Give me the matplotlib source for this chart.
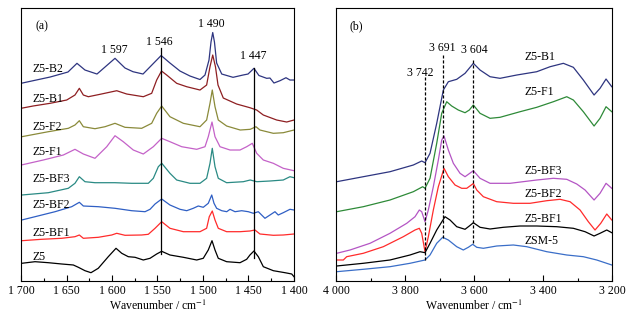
import numpy as np
import matplotlib
matplotlib.use("Agg")
import matplotlib.pyplot as plt
from matplotlib.ticker import MultipleLocator, FuncFormatter

plt.rcParams['font.family'] = ['Liberation Serif', 'DejaVu Serif']
plt.rcParams['mathtext.fontset'] = 'stix'
FS = 8.5

# ---------------- panel (a): 1700-1400 cm-1, stacked spectra (a.u. incl. offset)
a_names = ["Z5-B2", "Z5-B1", "Z5-F2", "Z5-F1", "Z5-BF3", "Z5-BF2", "Z5-BF1", "Z5"]
a_colors = ["#2e3580", "#8e1f22", "#8a8a3a", "#c462c8", "#2a8a84", "#2f5fc4", "#ff2b2b", "#000000"]

a_B2_wn = [1700, 1668, 1648.4, 1638.5, 1629.7, 1616.5, 1596.7, 1585.7, 1576.9, 1565.9, 1546, 1536.3,
           1525.3, 1514.3, 1503.3, 1497.8, 1493.4, 1491.2, 1489.3, 1487.4, 1485, 1479.4, 1467, 1456,
           1450.5, 1444, 1438.5, 1430, 1426.4, 1422, 1415.4, 1408.8, 1404.4, 1400]
a_B2 = [197.7, 204, 209, 217.7, 211, 207, 222.7, 213, 209.3, 207, 225.5, 218,
        210, 205, 201.5, 206, 221, 239, 248.5, 239, 218, 207, 203.7, 206,
        207, 212.7, 205.5, 202.7, 203, 198, 200.3, 203.3, 201, 201]

a_B1_wn = [1700, 1686.8, 1668.1, 1649.8, 1640.7, 1635.9, 1631.5, 1626, 1613.2, 1594.8, 1583.8, 1565.6,
           1556.4, 1550.9, 1545.6, 1539.9, 1528.9, 1517.9, 1503.3, 1496, 1492.3, 1489.3, 1486.3, 1483.5,
           1477.7, 1463, 1448.4, 1441, 1433.7, 1419, 1408, 1400]
a_B1 = [172.7, 175, 177.7, 181, 186, 192.7, 186, 184.3, 186.7, 190.3, 187, 184.3,
        187.7, 201, 210, 206, 197.7, 194.3, 191, 196, 214.3, 226, 214.3, 196,
        183, 177, 173.3, 171, 166, 161, 159, 161]

a_F2_wn = [1699.2, 1670, 1648, 1640.7, 1635.9, 1631.5, 1618.7, 1607.7, 1596.7, 1585.7, 1567.4, 1556.4,
           1550.9, 1545.4, 1536.3, 1521.6, 1503.3, 1496, 1492.3, 1489.8, 1486.8, 1483.2, 1474, 1459.1,
           1448.1, 1441.8, 1437.4, 1422.7, 1411.8, 1400]
a_F2 = [144.3, 149.3, 152.7, 156, 160.3, 154.3, 152.3, 154.3, 157.7, 153.7, 152.7, 157.7,
        167.7, 175, 164.3, 157.7, 154.3, 161, 177.7, 191, 174.3, 161, 155, 151,
        151.7, 154.3, 151, 147.7, 148.3, 151]

a_F1_wn = [1699.7, 1675.5, 1653.5, 1640.7, 1631.5, 1618.7, 1605.8, 1596.7, 1587.6, 1576.6, 1565.6, 1554.6,
           1545.4, 1536.3, 1523.4, 1506.9, 1497.8, 1494.2, 1490.1, 1486.8, 1481.3, 1470.3, 1459.3, 1452,
           1445.8, 1441, 1433.7, 1422.7, 1411.8, 1400]
a_F1 = [116, 121, 126, 131.7, 127, 122.7, 134.3, 145.3, 139.3, 131, 127, 134.3,
        142.7, 139.3, 134.3, 131.7, 134.3, 144.3, 159, 144.3, 134.3, 131, 131, 134.3,
        137.7, 127.7, 121, 117.7, 112.7, 110.3]

a_BF3_wn = [1699.2, 1670, 1648, 1640.7, 1635.9, 1629.7, 1618.7, 1596.7, 1578.4, 1560.1, 1554.6, 1549.1,
            1545.3, 1536.3, 1528.9, 1514.3, 1503.3, 1496, 1492.3, 1489.8, 1486.8, 1483.2, 1474, 1455.7,
            1448.1, 1440.8, 1426.4, 1411.8, 1404.4, 1400]
a_BF3 = [86, 88.3, 92.7, 97.7, 104.3, 99.3, 98.3, 98.3, 97.7, 97.7, 102.7, 114.3,
         117.7, 107.7, 101, 97.7, 97.7, 102.7, 117.7, 132.7, 114.3, 102.7, 98.3, 99.3,
         101, 99.3, 100, 101, 104.3, 103.3]

a_BF2_wn = [1699.2, 1684.6, 1662.6, 1644.3, 1635.9, 1631.5, 1615, 1596.7, 1578.4, 1563.7, 1558.2, 1552.7,
            1545.4, 1536.3, 1525.3, 1517.9, 1510.7, 1505.2, 1499.7, 1494.2, 1490.4, 1487.9, 1485, 1479.4,
            1473.9, 1470.3, 1464.8, 1457.5, 1450.2, 1444.7, 1439.2, 1431.9, 1426.4, 1420.9, 1417.3, 1411.8,
            1404.4, 1400]
a_BF2 = [61, 64.3, 69.3, 74.3, 78.7, 75, 74.3, 72.7, 70.3, 69.3, 71.7, 77,
         82, 76, 71.7, 70.3, 72.7, 75, 73.7, 77.7, 86, 77.7, 72.7, 70.3,
         69.3, 71.7, 69.3, 70.3, 69.3, 67.7, 69.3, 62.7, 66, 69.3, 66, 68.3,
         71.7, 71]

a_BF1_wn = [1699.2, 1677.3, 1655.3, 1640.7, 1635.9, 1631.5, 1615, 1600.3, 1594.8, 1585.7, 1567.4, 1560.1,
            1552.7, 1545.4, 1536.3, 1521.6, 1503.3, 1496, 1493.1, 1489.8, 1486.8, 1483.2, 1474, 1459.3,
            1448.4, 1442.9, 1437.4, 1422.7, 1411.8, 1400]
a_BF1 = [40.3, 41.7, 42.7, 44.3, 46, 42.7, 43.7, 46, 47.7, 45.7, 46, 46.7,
         52.7, 59.3, 52.7, 49.3, 49.3, 52.7, 64.3, 70, 61, 52.7, 49.3, 49.3,
         50, 51, 47, 45.7, 46, 47]

a_Z5_wn = [1699.2, 1684.6, 1670, 1655.3, 1642.5, 1637, 1629.7, 1623.1, 1615.1, 1604.1, 1595.6, 1589.3,
           1582.1, 1574.7, 1565.6, 1558.2, 1550.9, 1545.4, 1536.3, 1521.6, 1506.9, 1499.7, 1494.2, 1490.1,
           1486.8, 1483.2, 1474, 1459.3, 1452, 1448.4, 1444, 1439.2, 1433.7, 1422.7, 1409.9, 1402.5, 1400]
a_Z5 = [17.7, 19.3, 18.3, 17, 16, 13.7, 10.3, 8.3, 12.7, 24.3, 32.7, 27.7,
        24.3, 23.7, 21, 22.7, 27, 29.7, 26, 23.7, 21, 22.7, 31, 40.3,
        31, 22.7, 19.3, 18.3, 21.7, 26, 30, 24.3, 14.3, 10.3, 8.3, 7, 4.3]

a_wn = [a_B2_wn, a_B1_wn, a_F2_wn, a_F1_wn, a_BF3_wn, a_BF2_wn, a_BF1_wn, a_Z5_wn]
a_y = [a_B2, a_B1, a_F2, a_F1, a_BF3, a_BF2, a_BF1, a_Z5]
a_label_y = [212, 182.3, 154.3, 129.3, 102, 76, 48.3, 24.3]

a_peak_text = ["1 597", "1 546", "1 490", "1 447"]
a_peak_text_x = [1598, 1548, 1491, 1445]
a_peak_text_y = [231, 239, 257, 225]
a_vlines = [1546, 1444]
a_vline_top = [233.3, 213]
a_vline_bot = [27, 23.3]

# ---------------- panel (b): 4000-3200 cm-1
b_names = ["Z5-B1", "Z5-F1", "Z5-BF3", "Z5-BF2", "Z5-BF1", "ZSM-5"]
b_colors = ["#2e3580", "#2e8a38", "#b455c4", "#ff2b2b", "#000000", "#3a6ec8"]

b_B1_wn = [3998, 3920.9, 3843.5, 3775.9, 3751.6, 3742, 3727.5, 3708.1, 3688.9, 3674.4, 3650.1, 3626,
           3601.9, 3582.5, 3553.5, 3524.6, 3476.1, 3418.2, 3379.6, 3341, 3312, 3283.1, 3252, 3234.7,
           3217.3, 3200.7]
b_B1 = [99.3, 104.3, 109.3, 116, 120, 118.3, 127.7, 157.7, 191, 199.3, 201.7, 207.7,
        217.7, 211, 204.3, 202.7, 206, 209.3, 214.3, 217.7, 213.7, 201, 186, 192.7,
        202, 194.3]

b_F1_wn = [3998, 3920.9, 3843.5, 3775.9, 3748.7, 3742, 3727.5, 3708.1, 3693.6, 3679.1, 3664.6, 3645.5,
           3626, 3613.6, 3601.9, 3582.5, 3553.5, 3524.6, 3466.6, 3418.2, 3370, 3331.2, 3312, 3283.1,
           3252, 3234.7, 3217.3, 3200.7]
b_F1 = [69.3, 74.3, 81, 89.3, 94.3, 92.7, 102.7, 137.7, 167.7, 179.3, 175, 171,
        168.3, 171, 176, 167.7, 162.7, 163.7, 169.3, 173.7, 179.3, 184.3, 181, 169.3,
        155, 162.7, 174.3, 169.3]

b_BF3_wn = [3998, 3959.4, 3901.4, 3843.5, 3795, 3771, 3758.5, 3751.6, 3742, 3732.4, 3717.9, 3703.4,
            3693.6, 3686.9, 3674.4, 3659.9, 3640.5, 3626, 3601.9, 3582.5, 3553.5, 3495.6, 3418.2, 3370,
            3331.2, 3302.2, 3278.1, 3252, 3234.7, 3217.3, 3200.7]
b_BF3 = [27.7, 31, 37.7, 47.7, 57.7, 64.3, 71, 69.3, 59.3, 71, 94.3, 121,
         141, 145, 131, 117.7, 107.7, 104.3, 110.3, 102.7, 97.7, 97.7, 101, 102.7,
         101.7, 97, 91, 81, 87.7, 97.7, 92.7]

b_BF2_wn = [3998, 3978.8, 3969, 3920.9, 3862.9, 3804.9, 3771, 3758.5, 3751.6, 3742, 3732.4, 3717.9,
            3703.4, 3686.9, 3674.4, 3655, 3635.6, 3621.1, 3601.9, 3592.1, 3572.9, 3534.1, 3486, 3437.6,
            3389.2, 3350.6, 3321.6, 3292.6, 3268.6, 3249.2, 3232.6, 3215.2, 3200.7]
b_BF2 = [21, 21, 24.3, 27.7, 34.3, 44.3, 51, 52.7, 47.7, 29.3, 44.3, 71,
         94.3, 112.7, 104.3, 96, 92.7, 92.7, 97.5, 91, 84.3, 79.3, 77.7, 77.7,
         80.3, 81.7, 79.3, 71, 59.3, 51, 57.7, 67, 61]

b_BF1_wn = [3998, 3920.9, 3843.5, 3785.5, 3756.5, 3742, 3727.5, 3708.1, 3684.1, 3669.5, 3650.1, 3626,
            3613.6, 3601.9, 3582.5, 3553.5, 3515, 3466.6, 3418.2, 3360.2, 3312, 3278.1, 3252, 3234.7,
            3215.2, 3200.7]
b_BF1 = [15, 17.7, 21, 26, 29.3, 28.3, 37.7, 51, 64.3, 61, 54.3, 51.7,
         55, 58.3, 53.7, 52, 53.7, 55, 55, 54.3, 52.7, 49.3, 45, 47.7,
         51, 48.3]

b_Z_wn = [3998, 3920.9, 3843.5, 3785.5, 3742, 3727.5, 3708.1, 3690.7, 3674.4, 3650.1, 3631, 3616.5,
          3603.7, 3592.1, 3572.9, 3534.1, 3486, 3447.2, 3389.2, 3331.2, 3283.1, 3244.3, 3200.7]
b_Z = [9.3, 11.7, 14.3, 17.7, 21, 26, 37.7, 43.7, 41, 34.3, 31, 33.7,
       36.7, 33.7, 32.7, 35, 36, 34.3, 29.3, 26, 24.3, 21, 16]

b_wn = [b_B1_wn, b_F1_wn, b_BF3_wn, b_BF2_wn, b_BF1_wn, b_Z_wn]
b_y = [b_B1, b_F1, b_BF3, b_BF2, b_BF1, b_Z]
b_label_y = [223.7, 189.3, 110.3, 87, 62.3, 40.3]

b_peak_text = ["3 742", "3 691", "3 604"]
b_peak_text_x = [3756, 3691, 3600]
b_peak_text_y = [207.7, 232.7, 231]
b_vlines = [3742, 3691, 3604]
b_vline_top = [203.7, 226, 221]
b_vline_bot = [21, 42.7, 37.7]


def thousands(v, pos):
    return f"{v:,.0f}".replace(",", " ")


def style_axis(ax, xmin, xmax, major, minor):
    ax.set_xlim(xmin, xmax)
    ax.set_ylim(0, 273)
    ax.set_yticks([])
    ax.xaxis.set_major_locator(MultipleLocator(major))
    ax.xaxis.set_minor_locator(MultipleLocator(minor))
    ax.xaxis.set_major_formatter(FuncFormatter(thousands))
    ax.tick_params(axis='x', which='major', direction='in', length=4, width=0.8,
                   labelsize=FS, pad=3)
    ax.tick_params(axis='x', which='minor', direction='in', length=2, width=0.8)
    for s in ax.spines.values():
        s.set_linewidth(0.8)
    ax.set_xlabel("Wavenumber / cm$^{-1}$", fontsize=FS, labelpad=1)


fig = plt.figure(figsize=(6.31, 3.2), dpi=100)
axa = fig.add_axes([0.0333, 0.1219, 0.4326, 0.853])
axb = fig.add_axes([0.5325, 0.1219, 0.4374, 0.853])

# panel a
for wn, y, c in zip(a_wn, a_y, a_colors):
    axa.plot(wn, y, color=c, lw=0.9)
for x, t, b in zip(a_vlines, a_vline_top, a_vline_bot):
    axa.plot([x, x], [b, t], color="black", lw=0.9)
for name, yl in zip(a_names, a_label_y):
    axa.text(1687, yl, name, fontsize=FS, ha="left", va="center")
for t, x, y in zip(a_peak_text, a_peak_text_x, a_peak_text_y):
    axa.text(x, y, t, fontsize=FS, ha="center", va="center")
axa.text(1677, 255, "(a)", fontsize=FS, ha="center", va="center")
style_axis(axa, 1700, 1400, 50, 25)

# panel b
for wn, y, c in zip(b_wn, b_y, b_colors):
    axb.plot(wn, y, color=c, lw=0.9)
for x, t, b in zip(b_vlines, b_vline_top, b_vline_bot):
    axb.plot([x, x], [b, t], color="black", lw=0.9, ls=(0, (2.5, 1.5)))
for name, yl in zip(b_names, b_label_y):
    axb.text(3453, yl, name, fontsize=FS, ha="left", va="center")
for t, x, y in zip(b_peak_text, b_peak_text_x, b_peak_text_y):
    axb.text(x, y, t, fontsize=FS, ha="center", va="center")
axb.text(3940, 255, "(b)", fontsize=FS, ha="center", va="center")
style_axis(axb, 4000, 3200, 200, 100)

fig.savefig("out.png", dpi=100)
